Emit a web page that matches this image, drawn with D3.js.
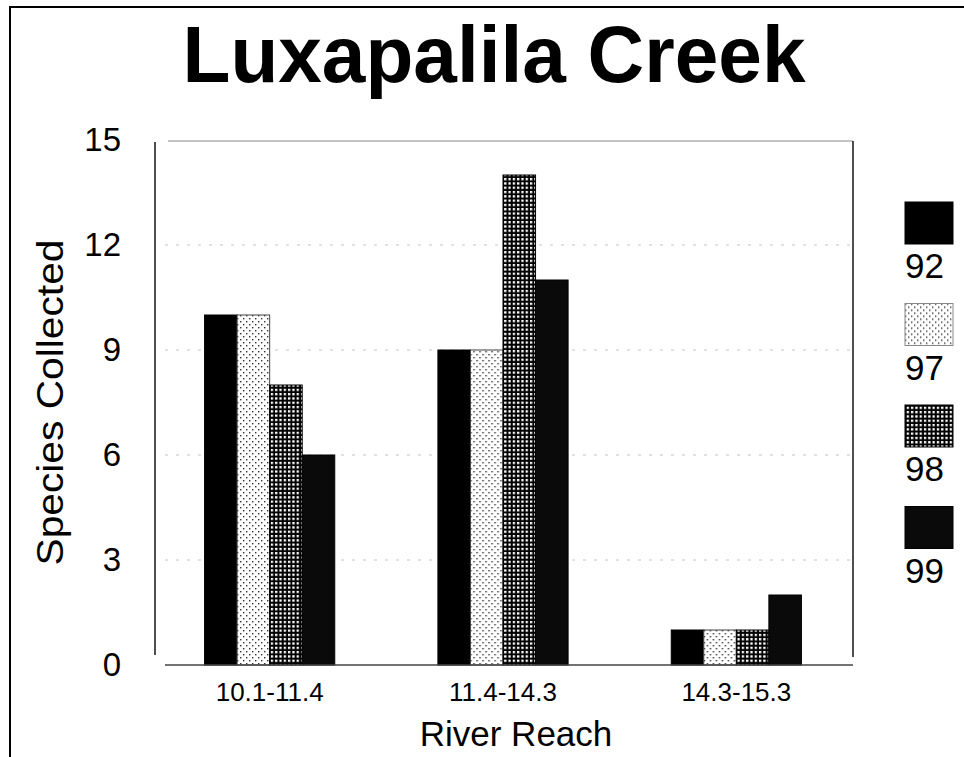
<!DOCTYPE html>
<html>
<head>
<meta charset="utf-8">
<script src="https://cdn.jsdelivr.net/npm/d3@7"></script>
<style>
  html, body { margin: 0; padding: 0; background: #fff; }
  svg { display: block; }
  text { font-family: "Liberation Sans", Arial, Helvetica, sans-serif; fill: #000; }
</style>
</head>
<body>
<svg id="chart" width="964" height="757"></svg>
<script>
// ---- data ----
const title = "Luxapalila Creek";
const categories = ["10.1-11.4", "11.4-14.3", "14.3-15.3"];
const seriesNames = ["92", "97", "98", "99"];
const values92 = [10, 9, 1];
const values97 = [10, 9, 1];
const values98 = [8, 14, 1];
const values99 = [6, 11, 2];
const yTicks = [0, 3, 6, 9, 12, 15];
const xTitle = "River Reach";
const yTitle = "Species Collected";

const seriesValues = [values92, values97, values98, values99];

// ---- layout ----
const W = 964, H = 757;
const plot = { left: 153, right: 853, top: 140, bottom: 665 };
const svg = d3.select("#chart");

// patterns
const defs = svg.append("defs");
const pDots = defs.append("pattern").attr("id", "pDots")
  .attr("patternUnits", "userSpaceOnUse").attr("width", 6).attr("height", 6);
pDots.append("rect").attr("width", 6).attr("height", 6).attr("fill", "#fff");
pDots.append("rect").attr("x", 0).attr("y", 0).attr("width", 1.4).attr("height", 1.4).attr("fill", "#333");
pDots.append("rect").attr("x", 3).attr("y", 3).attr("width", 1.4).attr("height", 1.4).attr("fill", "#333");

const pGrid = defs.append("pattern").attr("id", "pGrid")
  .attr("patternUnits", "userSpaceOnUse").attr("width", 4.3).attr("height", 4.3);
pGrid.append("rect").attr("width", 4.3).attr("height", 4.3).attr("fill", "#000");
pGrid.append("rect").attr("x", 1.7).attr("y", 1.7).attr("width", 2.3).attr("height", 2.3).attr("fill", "#fff");

const fills = ["#000", "url(#pDots)", "url(#pGrid)", "#0a0a0a"];
const strokes = ["#000", "#444", "#000", "#000"];

// outer frame (top and left)
svg.append("line").attr("x1", 10).attr("x2", W).attr("y1", 7).attr("y2", 7)
  .attr("stroke", "#000").attr("stroke-width", 2);
svg.append("line").attr("x1", 10).attr("x2", 10).attr("y1", 6).attr("y2", H)
  .attr("stroke", "#000").attr("stroke-width", 2);

// title
svg.append("text").attr("x", 494).attr("y", 82)
  .attr("text-anchor", "middle").attr("font-size", 80).attr("font-weight", "bold")
  .attr("textLength", 623).attr("lengthAdjust", "spacingAndGlyphs")
  .text(title);

// scales
const x0 = d3.scaleBand().domain(categories).range([plot.left, plot.right]).padding(0);
const x1 = d3.scaleBand().domain(seriesNames).range([0, x0.bandwidth()])
  .paddingInner(0).paddingOuter(1.585);
const y = d3.scaleLinear().domain([0, 15]).range([plot.bottom, plot.top]);

// gridlines
svg.append("g").selectAll("line").data(yTicks.filter(d => d > 0 && d < 15)).join("line")
  .attr("x1", plot.left + 12).attr("x2", plot.right)
  .attr("y1", d => y(d)).attr("y2", d => y(d))
  .attr("stroke", "#c4c4c4").attr("stroke-width", 1).attr("stroke-dasharray", "3,8");

// frame lines of the plot area
svg.append("line").attr("x1", plot.left + 15).attr("x2", plot.right)
  .attr("y1", y(15) + 1).attr("y2", y(15) + 1).attr("stroke", "#888").attr("stroke-width", 1);
svg.append("line").attr("x1", plot.right).attr("x2", plot.right)
  .attr("y1", y(15) + 1).attr("y2", y(0) - 8).attr("stroke", "#222").attr("stroke-width", 1.6);

// bars
const groups = svg.append("g").selectAll("g").data(categories).join("g")
  .attr("transform", d => `translate(${x0(d)},0)`);
groups.selectAll("rect")
  .data((c, ci) => seriesNames.map((s, si) => ({ s, si, v: seriesValues[si][ci] })))
  .join("rect")
  .attr("x", d => x1(d.s))
  .attr("width", x1.bandwidth())
  .attr("y", d => y(d.v))
  .attr("height", d => y(0) - y(d.v))
  .attr("fill", d => fills[d.si])
  .attr("stroke", d => strokes[d.si])
  .attr("stroke-width", 1);

// x axis line
svg.append("line").attr("x1", plot.left + 12).attr("x2", plot.right)
  .attr("y1", y(0)).attr("y2", y(0)).attr("stroke", "#444").attr("stroke-width", 1.6);

// y axis
const yAxis = svg.append("g").attr("transform", `translate(${plot.left + 2},0)`)
  .call(d3.axisLeft(y).tickValues(yTicks).tickSize(0).tickPadding(34));
yAxis.select(".domain").remove();
yAxis.selectAll("text").attr("font-size", 33).attr("fill", "#000")
  .style("font-family", '"Liberation Sans", Arial, sans-serif');
svg.append("line").attr("x1", plot.left + 2).attr("x2", plot.left + 2)
  .attr("y1", y(15) + 2).attr("y2", y(0) - 10).attr("stroke", "#222").attr("stroke-width", 1.6);

// x axis labels
const xAxis = svg.append("g").attr("transform", `translate(0,${y(0)})`)
  .call(d3.axisBottom(x0).tickSize(0).tickPadding(18));
xAxis.select(".domain").remove();
xAxis.selectAll("text").attr("font-size", 26).attr("fill", "#000")
  .style("font-family", '"Liberation Sans", Arial, sans-serif');

// axis titles
svg.append("text").attr("x", 516).attr("y", 746)
  .attr("text-anchor", "middle").attr("font-size", 35).text(xTitle);
svg.append("text").attr("transform", `translate(63,${(y(0) + y(15)) / 2}) rotate(-90)`)
  .attr("text-anchor", "middle").attr("font-size", 36)
  .attr("textLength", 326).attr("lengthAdjust", "spacingAndGlyphs")
  .text(yTitle);

// legend
const legend = svg.append("g").selectAll("g").data(seriesNames).join("g")
  .attr("transform", (d, i) => `translate(905,${202 + i * 101.5})`);
legend.append("rect").attr("width", 48).attr("height", 42)
  .attr("fill", (d, i) => fills[i]).attr("stroke", (d, i) => i === 1 ? "#888" : "#000").attr("stroke-width", 1);
legend.append("text").attr("x", 0).attr("y", 76).attr("font-size", 35).text(d => d);
</script>
</body>
</html>
